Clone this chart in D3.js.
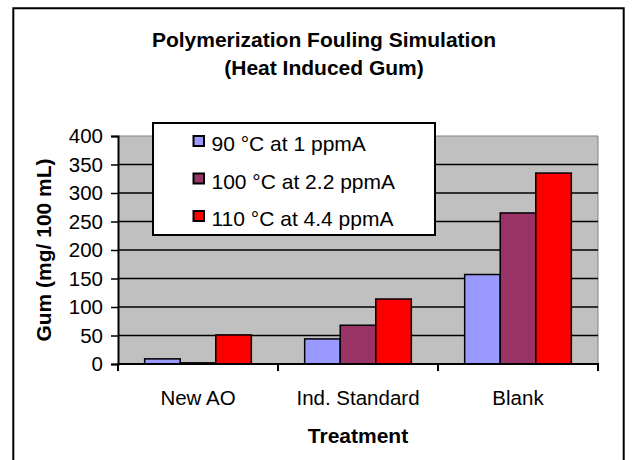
<!DOCTYPE html>
<html><head><meta charset="utf-8">
<script src="https://cdn.jsdelivr.net/npm/d3@7/dist/d3.min.js"></script>
<style>
body{margin:0;background:#fff;}
svg text{font-family:"Liberation Sans",Arial,sans-serif;fill:#000;}
</style></head>
<body><svg id="c" width="633" height="460"></svg>
<script>
const categories = ["New AO", "Ind. Standard", "Blank"];
const seriesNames = ["90 °C at 1 ppmA", "100 °C at 2.2 ppmA", "110 °C at 4.4 ppmA"];
const seriesColors = ["#9999FF", "#993366", "#FF0000"];
const s90 = [9, 44, 157];
const s100 = [2, 68, 265];
const s110 = [51, 114, 335];
const yTicks = [0, 50, 100, 150, 200, 250, 300, 350, 400];
const titleLines = ["Polymerization Fouling Simulation", "(Heat Induced Gum)"];
const xTitle = "Treatment";
const yTitle = "Gum (mg/ 100 mL)";

const seriesValues = [s90, s100, s110];
const svg = d3.select("#c");

// outer frame
svg.append("path").attr("d","M13.3,470 L13.3,8.3 L623.7,8.3 L623.7,470")
  .attr("fill","none").attr("stroke","#000").attr("stroke-width",2);

const L=118, R=598, T=136, B=364;
const x = d3.scaleBand().domain(categories).range([L,R]).padding(0);
const xs = d3.scaleBand().domain(d3.range(seriesNames.length)).range([0,x.bandwidth()]).paddingInner(0).paddingOuter(0.75);
const y = d3.scaleLinear().domain([0,400]).range([B,T]);

// plot background
svg.append("rect").attr("x",L).attr("y",T).attr("width",R-L).attr("height",B-T).attr("fill","#C0C0C0");
svg.append("path").attr("d",`M${L},${T}H${R}V${B}`).attr("fill","none").attr("stroke","#808080").attr("stroke-width",1);

// gridlines
svg.append("g").selectAll("line").data(yTicks.filter(d=>d>0 && d<400)).join("line")
  .attr("x1",L).attr("x2",R).attr("y1",d=>y(d)).attr("y2",d=>y(d))
  .attr("stroke","#000").attr("stroke-width",1.3);

// bars
const data = [];
categories.forEach((c,ci)=>seriesValues.forEach((s,si)=>data.push({c,si,v:s[ci]})));
svg.append("g").selectAll("rect").data(data).join("rect")
  .attr("x",d=>x(d.c)+xs(d.si))
  .attr("width",xs.bandwidth())
  .attr("y",d=>y(d.v))
  .attr("height",d=>y(0)-y(d.v))
  .attr("fill",d=>seriesColors[d.si])
  .attr("stroke","#000").attr("stroke-width",1.5);

// y axis
const yAxis = svg.append("g").attr("transform",`translate(${L},0)`)
  .call(d3.axisLeft(y).tickValues(yTicks).tickSize(7).tickPadding(8));
yAxis.select(".domain").attr("stroke","#000").attr("stroke-width",2);
yAxis.selectAll(".tick line").attr("stroke","#000").attr("stroke-width",1.5);
yAxis.selectAll("text").attr("font-size",20.5).attr("font-family","Liberation Sans, Arial, sans-serif").attr("fill","#000");

// x axis
svg.append("line").attr("x1",L-1).attr("x2",R+1).attr("y1",B).attr("y2",B).attr("stroke","#000").attr("stroke-width",2);
const bounds = categories.map(c=>x(c)).concat([x(categories[categories.length-1])+x.bandwidth()]);
svg.append("g").selectAll("line").data(bounds).join("line")
  .attr("x1",d=>d).attr("x2",d=>d).attr("y1",B).attr("y2",B+7)
  .attr("stroke","#000").attr("stroke-width",2);
svg.append("g").selectAll("text").data(categories).join("text")
  .attr("x",d=>x(d)+x.bandwidth()/2).attr("y",405)
  .attr("text-anchor","middle").attr("font-size",20.5).text(d=>d);

// axis titles
svg.append("text").attr("x",(L+R)/2).attr("y",443).attr("text-anchor","middle")
  .attr("font-size",21).attr("font-weight","bold").text(xTitle);
svg.append("text").attr("transform",`translate(51,${(T+B)/2}) rotate(-90)`).attr("text-anchor","middle")
  .attr("font-size",21).attr("font-weight","bold").text(yTitle);

// title
svg.append("g").selectAll("text").data(titleLines).join("text")
  .attr("x",324).attr("y",(d,i)=>47+i*28.3).attr("text-anchor","middle")
  .attr("font-size",21).attr("font-weight","bold").text(d=>d);

// legend
const lg = svg.append("g");
lg.append("rect").attr("x",153).attr("y",123).attr("width",282).attr("height",112)
  .attr("fill","#fff").attr("stroke","#000").attr("stroke-width",2);
const items = lg.selectAll("g.it").data(seriesNames).join("g").attr("class","it")
  .attr("transform",(d,i)=>`translate(0,${i*37.5})`);
items.append("rect").attr("x",193.5).attr("y",136).attr("width",10.5).attr("height",10)
  .attr("fill",(d,i)=>seriesColors[i]).attr("stroke","#000").attr("stroke-width",2);
items.append("text").attr("x",211.5).attr("y",151).attr("font-size",21).text(d=>d);
</script></body></html>
